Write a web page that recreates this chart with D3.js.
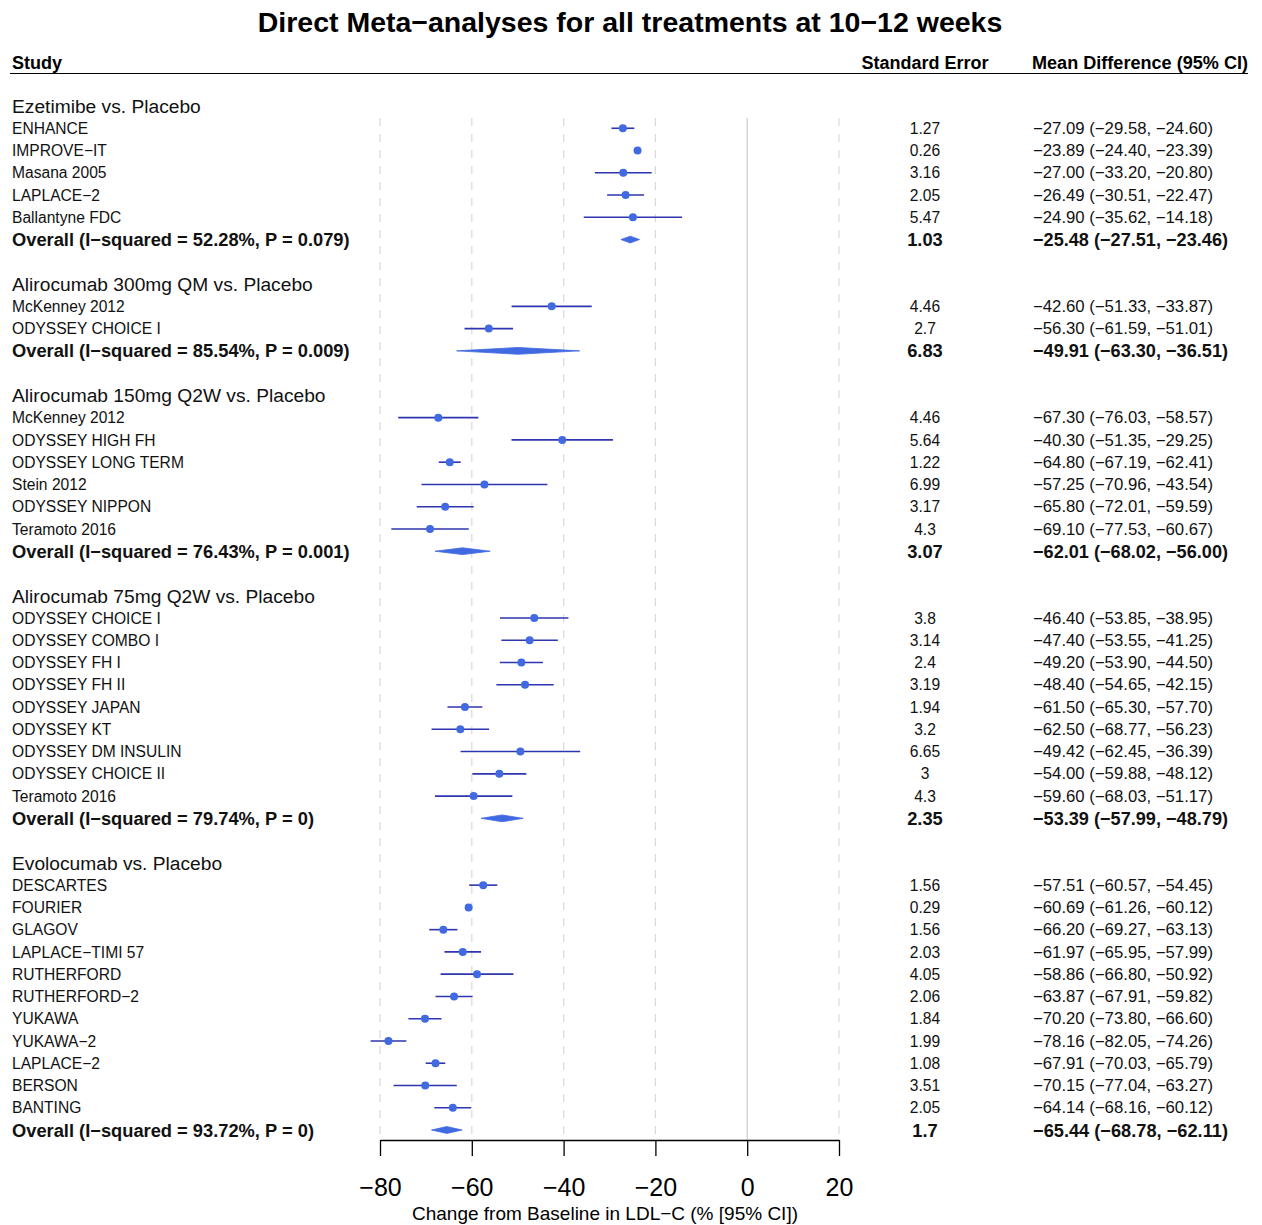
<!DOCTYPE html>
<html>
<head>
<meta charset="utf-8">
<script src="https://cdn.jsdelivr.net/npm/d3@7"></script>
<style>
  body { margin: 0; background: #fff; }
  svg text { font-family: "Liberation Sans", Arial, sans-serif; }
</style>
</head>
<body>
<svg id="forest" width="1262" height="1225"></svg>
<script>
// group titles and pooled results
var groupTitles = ["Ezetimibe vs. Placebo", "Alirocumab 300mg QM vs. Placebo",
  "Alirocumab 150mg Q2W vs. Placebo", "Alirocumab 75mg Q2W vs. Placebo", "Evolocumab vs. Placebo"];
var overallI2 = ["52.28%", "85.54%", "76.43%", "79.74%", "93.72%"];
var overallP = ["0.079", "0.009", "0.001", "0", "0"];
var overallSE = [1.03, 6.83, 3.07, 2.35, 1.7];
var overallMD = [-25.48, -49.91, -62.01, -53.39, -65.44];
var overallLo = [-27.51, -63.30, -68.02, -57.99, -68.78];
var overallHi = [-23.46, -36.51, -56.00, -48.79, -62.11];

// Ezetimibe
var ezeStudy = ["ENHANCE", "IMPROVE\u2212IT", "Masana 2005", "LAPLACE\u22122", "Ballantyne FDC"];
var ezeSE = [1.27, 0.26, 3.16, 2.05, 5.47];
var ezeMD = [-27.09, -23.89, -27.00, -26.49, -24.90];
var ezeLo = [-29.58, -24.40, -33.20, -30.51, -35.62];
var ezeHi = [-24.60, -23.39, -20.80, -22.47, -14.18];

// Alirocumab 300mg QM
var ali300Study = ["McKenney 2012", "ODYSSEY CHOICE I"];
var ali300SE = [4.46, 2.7];
var ali300MD = [-42.60, -56.30];
var ali300Lo = [-51.33, -61.59];
var ali300Hi = [-33.87, -51.01];

// Alirocumab 150mg Q2W
var ali150Study = ["McKenney 2012", "ODYSSEY HIGH FH", "ODYSSEY LONG TERM", "Stein 2012", "ODYSSEY NIPPON", "Teramoto 2016"];
var ali150SE = [4.46, 5.64, 1.22, 6.99, 3.17, 4.3];
var ali150MD = [-67.30, -40.30, -64.80, -57.25, -65.80, -69.10];
var ali150Lo = [-76.03, -51.35, -67.19, -70.96, -72.01, -77.53];
var ali150Hi = [-58.57, -29.25, -62.41, -43.54, -59.59, -60.67];

// Alirocumab 75mg Q2W
var ali75Study = ["ODYSSEY CHOICE I", "ODYSSEY COMBO I", "ODYSSEY FH I", "ODYSSEY FH II", "ODYSSEY JAPAN",
  "ODYSSEY KT", "ODYSSEY DM INSULIN", "ODYSSEY CHOICE II", "Teramoto 2016"];
var ali75SE = [3.8, 3.14, 2.4, 3.19, 1.94, 3.2, 6.65, 3, 4.3];
var ali75MD = [-46.40, -47.40, -49.20, -48.40, -61.50, -62.50, -49.42, -54.00, -59.60];
var ali75Lo = [-53.85, -53.55, -53.90, -54.65, -65.30, -68.77, -62.45, -59.88, -68.03];
var ali75Hi = [-38.95, -41.25, -44.50, -42.15, -57.70, -56.23, -36.39, -48.12, -51.17];

// Evolocumab
var evoStudy = ["DESCARTES", "FOURIER", "GLAGOV", "LAPLACE\u2212TIMI 57", "RUTHERFORD", "RUTHERFORD\u22122",
  "YUKAWA", "YUKAWA\u22122", "LAPLACE\u22122", "BERSON", "BANTING"];
var evoSE = [1.56, 0.29, 1.56, 2.03, 4.05, 2.06, 1.84, 1.99, 1.08, 3.51, 2.05];
var evoMD = [-57.51, -60.69, -66.20, -61.97, -58.86, -63.87, -70.20, -78.16, -67.91, -70.15, -64.14];
var evoLo = [-60.57, -61.26, -69.27, -65.95, -66.80, -67.91, -73.80, -82.05, -70.03, -77.04, -68.16];
var evoHi = [-54.45, -60.12, -63.13, -57.99, -50.92, -59.82, -66.60, -74.26, -65.79, -63.27, -60.12];

var xTicks = [-80, -60, -40, -20, 0, 20];

var groupStudies = [ezeStudy, ali300Study, ali150Study, ali75Study, evoStudy];
var groupSE = [ezeSE, ali300SE, ali150SE, ali75SE, evoSE];
var groupMD = [ezeMD, ali300MD, ali150MD, ali75MD, evoMD];
var groupLo = [ezeLo, ali300Lo, ali150Lo, ali75Lo, evoLo];
var groupHi = [ezeHi, ali300Hi, ali150Hi, ali75Hi, evoHi];

// build row list: header, studies, overall, blank
var rows = [];
groupTitles.forEach(function(t, g) {
  rows.push({type: "header", label: t});
  groupStudies[g].forEach(function(s, i) {
    rows.push({type: "study", label: s, se: groupSE[g][i], md: groupMD[g][i], lo: groupLo[g][i], hi: groupHi[g][i]});
  });
  rows.push({type: "overall", label: "Overall (I\u2212squared = " + overallI2[g] + ", P = " + overallP[g] + ")",
    se: overallSE[g], md: overallMD[g], lo: overallLo[g], hi: overallHi[g]});
  if (g < groupTitles.length - 1) rows.push({type: "blank"});
});
rows.forEach(function(r, i) { r.idx = i; });

var svg = d3.select("#forest");
var fmt = d3.format(".2f");

var x = d3.scaleLinear().domain([-80, 20]).range([380, 839]);
var y = d3.scaleLinear().domain([0, rows.length - 1]).range([106, 1130]);
var axisY = 1140;
var topY = 118;

function fontSize(r) {
  if (r.type === "study") return "15.6px";
  if (r.type === "header") return "19.2px";
  return "18.3px";
}

// title and header
svg.append("text")
  .attr("x", 630).attr("y", 32)
  .attr("text-anchor", "middle")
  .attr("font-size", "28.5px").attr("font-weight", "bold")
  .text("Direct Meta\u2212analyses for all treatments at 10\u221212 weeks");

svg.append("text").attr("x", 12).attr("y", 69)
  .attr("font-size", "18px").attr("font-weight", "bold").text("Study");
svg.append("text").attr("x", 925).attr("y", 69).attr("text-anchor", "middle")
  .attr("font-size", "18px").attr("font-weight", "bold").text("Standard Error");
svg.append("text").attr("x", 1032).attr("y", 69)
  .attr("font-size", "18px").attr("font-weight", "bold")
  .attr("textLength", 216).attr("lengthAdjust", "spacingAndGlyphs")
  .text("Mean Difference (95% CI)");
svg.append("line").attr("x1", 10).attr("x2", 1248).attr("y1", 73.5).attr("y2", 73.5)
  .attr("stroke", "#000").attr("stroke-width", 1);

// reference lines
svg.selectAll(".grid")
  .data(xTicks.filter(function(d) { return d !== 0; }))
  .enter().append("line")
  .attr("x1", function(d) { return x(d); }).attr("x2", function(d) { return x(d); })
  .attr("y1", topY).attr("y2", axisY)
  .attr("stroke", "#d9d9d9").attr("stroke-width", 1.2)
  .attr("stroke-dasharray", "8,8");

svg.append("line")
  .attr("x1", x(0)).attr("x2", x(0)).attr("y1", topY).attr("y2", axisY)
  .attr("stroke", "#cccccc").attr("stroke-width", 1.2);

// axis
var axis = svg.append("g")
  .attr("transform", "translate(0," + axisY + ")")
  .call(d3.axisBottom(x).tickValues(xTicks).tickSize(16).tickPadding(22).tickSizeOuter(0));
axis.select(".domain").attr("stroke", "#000").attr("stroke-width", 1.3);
axis.selectAll(".tick line").attr("stroke", "#000").attr("stroke-width", 1.3);
axis.selectAll(".tick text")
  .attr("font-family", "Liberation Sans, Arial, sans-serif")
  .attr("font-size", "25px").attr("fill", "#000");

svg.append("text")
  .attr("x", 605).attr("y", 1220)
  .attr("text-anchor", "middle").attr("font-size", "19px")
  .text("Change from Baseline in LDL\u2212C (% [95% CI])");

// left labels
svg.selectAll(".label")
  .data(rows.filter(function(r) { return r.type !== "blank"; }))
  .enter().append("text")
  .attr("x", 12)
  .attr("y", function(r) { return y(r.idx); })
  .attr("dy", "0.36em")
  .attr("font-size", fontSize)
  .attr("font-weight", function(r) { return r.type === "overall" ? "bold" : "normal"; })
  .attr("fill", "#111")
  .text(function(r) { return r.label; });

var valueRows = rows.filter(function(r) { return r.type === "study" || r.type === "overall"; });

// SE column
svg.selectAll(".se")
  .data(valueRows)
  .enter().append("text")
  .attr("x", 925)
  .attr("y", function(r) { return y(r.idx); })
  .attr("dy", "0.36em")
  .attr("text-anchor", "middle")
  .attr("font-size", fontSize)
  .attr("font-weight", function(r) { return r.type === "overall" ? "bold" : "normal"; })
  .attr("fill", "#111")
  .text(function(r) { return String(r.se); });

// mean difference column
svg.selectAll(".md")
  .data(valueRows)
  .enter().append("text")
  .attr("x", 1033)
  .attr("y", function(r) { return y(r.idx); })
  .attr("dy", "0.36em")
  .attr("font-size", fontSize)
  .attr("font-weight", function(r) { return r.type === "overall" ? "bold" : "normal"; })
  .attr("textLength", function(r) { return r.type === "study" ? 180 : 195; })
  .attr("lengthAdjust", "spacingAndGlyphs")
  .attr("fill", "#111")
  .text(function(r) { return fmt(r.md) + " (" + fmt(r.lo) + ", " + fmt(r.hi) + ")"; });

// confidence intervals
var studyRows = rows.filter(function(r) { return r.type === "study"; });
svg.selectAll(".ci")
  .data(studyRows)
  .enter().append("line")
  .attr("x1", function(r) { return x(r.lo); })
  .attr("x2", function(r) { return x(r.hi); })
  .attr("y1", function(r) { return y(r.idx); })
  .attr("y2", function(r) { return y(r.idx); })
  .attr("stroke", "#2f35b0").attr("stroke-width", 1.6);

svg.selectAll(".pt")
  .data(studyRows)
  .enter().append("circle")
  .attr("cx", function(r) { return x(r.md); })
  .attr("cy", function(r) { return y(r.idx); })
  .attr("r", 4)
  .attr("fill", "#4169e1");

// pooled diamonds
svg.selectAll(".diamond")
  .data(rows.filter(function(r) { return r.type === "overall"; }))
  .enter().append("path")
  .attr("d", function(r) {
    var cy = y(r.idx), h = 3.4;
    return "M" + x(r.lo) + "," + cy + "L" + x(r.md) + "," + (cy - h) +
      "L" + x(r.hi) + "," + cy + "L" + x(r.md) + "," + (cy + h) + "Z";
  })
  .attr("fill", "#4169e1")
  .attr("stroke", "#4169e1").attr("stroke-width", 0.8);
</script>
</body>
</html>
